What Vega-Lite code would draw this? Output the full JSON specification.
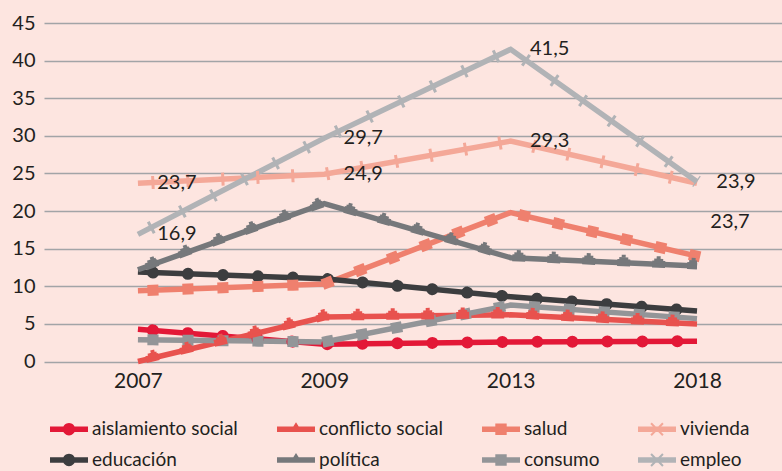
{
  "$schema": "https://vega.github.io/schema/vega-lite/v6.json",
  "width": 738,
  "height": 338.5,
  "autosize": {"type": "none"},
  "padding": {"left": 44, "top": 23, "right": 0, "bottom": 109.5},
  "background": "#fde5e0",
  "config": {
    "view": {"stroke": null},
    "font": "Lato",
    "locale": {"number": {"decimal": ",", "thousands": ".", "grouping": [3], "currency": ["", " €"]}},
    "legend": {"orient": "none", "legendX": 15.5, "legendY": 396.5, "direction": "horizontal", "columns": 4, "title": null, "symbolSize": 361, "symbolStrokeWidth": 0, "symbolOpacity": 1, "labelFontSize": 19, "labelFont": "Lato", "labelColor": "#231f20", "labelOffset": 13.5, "rowPadding": 11, "columnPadding": 38, "padding": 0, "labelLimit": 0}
  },
  "data": {
    "values": [
      {"serie": "aislamiento social", "anio": "2007", "valor": 4.3},
      {"serie": "aislamiento social", "anio": "2009", "valor": 2.3},
      {"serie": "aislamiento social", "anio": "2013", "valor": 2.6},
      {"serie": "aislamiento social", "anio": "2018", "valor": 2.7},
      {"serie": "conflicto social", "anio": "2007", "valor": 0.0},
      {"serie": "conflicto social", "anio": "2009", "valor": 5.9},
      {"serie": "conflicto social", "anio": "2013", "valor": 6.2},
      {"serie": "conflicto social", "anio": "2018", "valor": 5.0},
      {"serie": "salud", "anio": "2007", "valor": 9.4},
      {"serie": "salud", "anio": "2009", "valor": 10.3},
      {"serie": "salud", "anio": "2013", "valor": 19.8},
      {"serie": "salud", "anio": "2018", "valor": 14.0},
      {"serie": "vivienda", "anio": "2007", "valor": 23.7},
      {"serie": "vivienda", "anio": "2009", "valor": 24.9},
      {"serie": "vivienda", "anio": "2013", "valor": 29.3},
      {"serie": "vivienda", "anio": "2018", "valor": 23.7},
      {"serie": "educación", "anio": "2007", "valor": 11.9},
      {"serie": "educación", "anio": "2009", "valor": 11.0},
      {"serie": "educación", "anio": "2013", "valor": 8.6},
      {"serie": "educación", "anio": "2018", "valor": 6.7},
      {"serie": "política", "anio": "2007", "valor": 12.2},
      {"serie": "política", "anio": "2009", "valor": 21.0},
      {"serie": "política", "anio": "2013", "valor": 13.8},
      {"serie": "política", "anio": "2018", "valor": 12.7},
      {"serie": "consumo", "anio": "2007", "valor": 2.9},
      {"serie": "consumo", "anio": "2009", "valor": 2.6},
      {"serie": "consumo", "anio": "2013", "valor": 7.5},
      {"serie": "consumo", "anio": "2018", "valor": 5.7},
      {"serie": "empleo", "anio": "2007", "valor": 16.9},
      {"serie": "empleo", "anio": "2009", "valor": 29.7},
      {"serie": "empleo", "anio": "2013", "valor": 41.5},
      {"serie": "empleo", "anio": "2018", "valor": 23.9}
    ]
  },
  "encoding": {
    "x": {
      "field": "anio", "type": "ordinal", "sort": ["2007", "2009", "2013", "2018"],
      "scale": {"type": "point", "padding": 0.48, "align": 0.525},
      "axis": {"title": null, "domain": false, "ticks": false, "grid": false, "labelAngle": 0, "labelPadding": 9, "labelDx": 17, "labelFontSize": 21, "labelFont": "Lato", "labelColor": "#231f20"}
    },
    "y": {
      "field": "valor", "type": "quantitative",
      "scale": {"domain": [0, 45], "nice": false, "zero": true},
      "axis": {"title": null, "values": [0, 5, 10, 15, 20, 25, 30, 35, 40, 45], "domain": false, "ticks": false, "grid": true, "gridColor": "#a2a4a7", "gridWidth": 1.5, "labelPadding": 9, "labelFontSize": 20, "labelFont": "Lato", "labelColor": "#231f20"}
    },
    "color": {
      "field": "serie", "type": "nominal",
      "scale": {
        "domain": ["aislamiento social", "conflicto social", "salud", "vivienda", "educación", "política", "consumo", "empleo"],
        "range": ["#e31837", "#e8524e", "#ef806e", "#f4a898", "#3c3d3f", "#76787b", "#939598", "#b1b3b6"]
      }
    }
  },
  "layer": [
    {
      "mark": {"type": "line", "strokeWidth": 5.5, "strokeJoin": "miter"}
    },
    {
      "transform": [{"filter": {"field": "serie", "oneOf": ["aislamiento social", "educación"]}}],
      "mark": {"type": "line", "strokeWidth": 12, "strokeCap": "round", "strokeDash": [0.1, 34.9], "strokeDashOffset": 20}
    },
    {
      "transform": [{"filter": {"field": "serie", "oneOf": ["salud", "consumo"]}}],
      "mark": {"type": "line", "strokeWidth": 11, "strokeCap": "square", "strokeDash": [0.1, 34.9], "strokeDashOffset": 20}
    },
    {
      "transform": [{"filter": {"field": "serie", "oneOf": ["conflicto social", "política"]}}],
      "mark": {"type": "line", "strokeWidth": 7, "strokeCap": "butt", "strokeDash": [13, 22], "strokeDashOffset": 26.5}
    },
    {
      "transform": [{"filter": {"field": "serie", "oneOf": ["conflicto social", "política"]}}],
      "mark": {"type": "line", "strokeWidth": 5, "yOffset": -3, "strokeCap": "butt", "strokeDash": [9, 26], "strokeDashOffset": 24.5}
    },
    {
      "transform": [{"filter": {"field": "serie", "oneOf": ["conflicto social", "política"]}}],
      "mark": {"type": "line", "strokeWidth": 3, "yOffset": -6.5, "strokeCap": "butt", "strokeDash": [4, 31], "strokeDashOffset": 22}
    },
    {
      "transform": [{"filter": {"field": "serie", "oneOf": ["vivienda", "empleo"]}}],
      "mark": {"type": "line", "strokeWidth": 13, "strokeCap": "butt", "strokeDash": [3, 32], "strokeDashOffset": 21.5}
    },
    {
      "mark": {"type": "point", "filled": true, "opacity": 0, "size": 10},
      "encoding": {
        "shape": {
          "field": "serie", "type": "nominal",
          "scale": {
            "domain": ["aislamiento social", "conflicto social", "salud", "vivienda", "educación", "política", "consumo", "empleo"],
            "range": [
              "M-2,-0.3H2V0.3H-2Z M0.65,0A0.65,0.65 0 1 1 -0.65,0A0.65,0.65 0 1 1 0.65,0Z",
              "M-2,-0.3H2V0.3H-2Z M-0.65,0.3L0,-0.75L0.65,0.3Z",
              "M-2,-0.3H2V0.3H-2Z M-0.6,-0.6H0.6V0.6H-0.6Z",
              "M-2,-0.3H2V0.3H-2Z M-0.55,-0.7L0.7,0.55L0.55,0.7L-0.7,-0.55Z M0.55,-0.7L0.7,-0.55L-0.55,0.7L-0.7,0.55Z",
              "M-2,-0.3H2V0.3H-2Z M0.65,0A0.65,0.65 0 1 1 -0.65,0A0.65,0.65 0 1 1 0.65,0Z",
              "M-2,-0.3H2V0.3H-2Z M-0.65,0.3L0,-0.75L0.65,0.3Z",
              "M-2,-0.3H2V0.3H-2Z M-0.6,-0.6H0.6V0.6H-0.6Z",
              "M-2,-0.3H2V0.3H-2Z M-0.55,-0.7L0.7,0.55L0.55,0.7L-0.7,-0.55Z M0.55,-0.7L0.7,-0.55L-0.55,0.7L-0.7,0.55Z"
            ]
          }
        }
      }
    },
    {
      "transform": [{"filter": "(datum.serie == 'vivienda' || datum.serie == 'empleo') && !(datum.serie == 'vivienda' && datum.anio == '2018')"}],
      "mark": {"type": "text", "dx": 39, "align": "center", "baseline": "middle", "fontSize": 20, "font": "Lato"},
      "encoding": {
        "text": {"field": "valor", "type": "quantitative", "format": ".1f"},
        "color": {"value": "#231f20"}
      }
    },
    {
      "transform": [{"filter": "datum.serie == 'vivienda' && datum.anio == '2018'"}],
      "mark": {"type": "text", "dx": 33, "dy": 39, "align": "center", "baseline": "middle", "fontSize": 20, "font": "Lato"},
      "encoding": {
        "text": {"field": "valor", "type": "quantitative", "format": ".1f"},
        "color": {"value": "#231f20"}
      }
    }
  ]
}
